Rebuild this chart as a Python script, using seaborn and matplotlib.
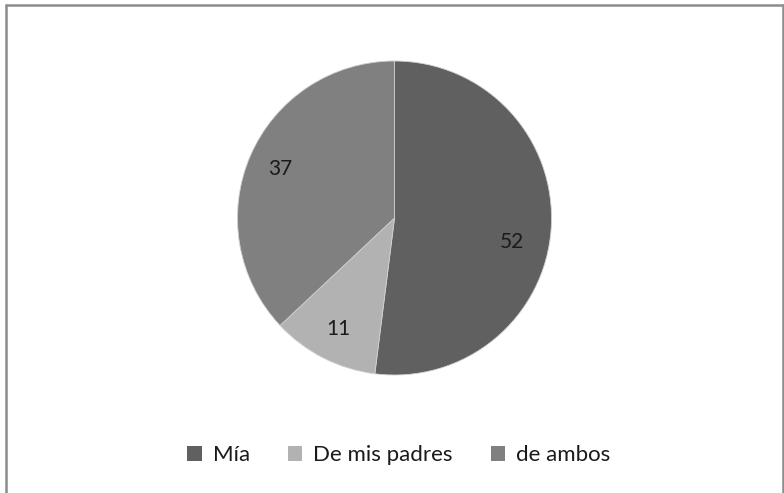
import matplotlib
matplotlib.use('Agg')
import matplotlib.pyplot as plt
import seaborn as sns
import numpy as np
from matplotlib.lines import Line2D
from matplotlib.patches import Patch

# Data
categories = ["Mía", "De mis padres", "de ambos"]
values = [52, 11, 37]
colors = ["#606060", "#b2b2b2", "#808080"]

sns.set_theme(style="white")
plt.rcParams['font.family'] = ['Lato', 'DejaVu Sans']

fig = plt.figure(figsize=(7.84, 4.93), dpi=100)

# chart frame (top, left, right edges only)
frame_col = "#8c8c8c"
for xs, ys in [([5.5 / 784, 5.5 / 784], [0, 1 - 4.5 / 493]),
               ([5.5 / 784, 782.5 / 784], [1 - 4.5 / 493, 1 - 4.5 / 493]),
               ([782.5 / 784, 782.5 / 784], [0, 1 - 4.5 / 493])]:
    fig.add_artist(Line2D(xs, ys, color=frame_col, lw=1.8, transform=fig.transFigure))

ax = fig.add_axes([237.5 / 784, 118 / 493, 314 / 784, 314 / 493])
wedges, texts = ax.pie(values, colors=colors, startangle=90, counterclock=False,
                       labels=[str(v) for v in values], labeldistance=0.79,
                       wedgeprops=dict(edgecolor="#d0d0d0", linewidth=0.6),
                       textprops=dict(fontsize=15, color="#1a1a1a", ha="center", va="center"))

# nudge the big slice label a bit lower, like the original
th = np.deg2rad(-11.5)
texts[0].set_position((0.76 * np.cos(th), 0.76 * np.sin(th)))

ax.set_xlim(-1, 1)
ax.set_ylim(-1, 1)
ax.set_aspect('equal')
ax.axis('off')

handles = [Patch(facecolor=c, edgecolor='none') for c in colors]
fig.legend(handles, categories, loc='center', bbox_to_anchor=(399 / 784, 1 - 455 / 493),
           ncol=3, frameon=False, fontsize=16, handlelength=0.65, handleheight=0.65,
           handletextpad=0.5, columnspacing=1.7, labelcolor="#1a1a1a")

fig.savefig("out.png", dpi=100)
